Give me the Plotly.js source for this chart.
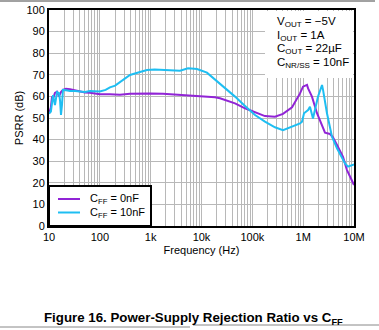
<!DOCTYPE html>
<html>
<head>
<meta charset="utf-8">
<script src="https://cdn.plot.ly/plotly-3.0.1.min.js"></script>
<style>html,body{margin:0;padding:0;background:#fff;}#chart{width:379px;height:330px;}</style>
</head>
<body>
<div id="chart"></div>
<script>
// C_FF = 0nF (purple)
const freq0 = [10, 10.9, 11.5, 12, 13.1, 14.4, 15.7, 16.5, 17.2, 18.8, 21.6, 25.9, 32.5, 40.7, 51, 64, 100, 158, 249, 392, 617, 971, 1750, 2400, 3780, 5940, 9360, 12800, 18400, 23100, 29000, 45600, 71800, 113000, 177000, 279000, 401000, 604000, 867000, 993000, 1120000, 1190000, 1250000, 1490000, 1870000, 2350000, 2690000, 3370000, 3860000, 4630000, 6080000, 7280000, 9140000, 10000000];
const psrr0 = [52, 55, 60, 59, 61.6, 62.2, 60, 61, 62, 63, 63.5, 63.3, 62.8, 62.3, 61.8, 61.7, 61, 61, 60.8, 61.2, 61.4, 61.4, 61.2, 61, 60.8, 60.4, 60.2, 60, 59.6, 59.1, 58.3, 56.8, 54.5, 52.5, 50.9, 50.6, 51.9, 55, 61.4, 64.5, 65.2, 65.3, 63.7, 59.9, 52.2, 46, 43.2, 42.6, 41, 37.5, 32, 25.9, 20.5, 19];
// C_FF = 10nF (cyan)
const freq10 = [10, 10.9, 12, 13.1, 14.4, 15.7, 16.5, 17.2, 18, 18.8, 21.6, 25.9, 32.5, 40.7, 51, 64, 100, 130, 158, 200, 249, 392, 617, 847, 1200, 1750, 2400, 3780, 5430, 8170, 12800, 18400, 23100, 29000, 45600, 71800, 113000, 177000, 279000, 401000, 604000, 867000, 949000, 1040000, 1250000, 1360000, 1560000, 1710000, 1960000, 2350000, 2460000, 2940000, 3690000, 4630000, 5310000, 6660000, 7620000, 9140000, 10000000];
const psrr10 = [52, 53, 60.6, 56, 62, 61.5, 58, 51.4, 56, 63, 62.8, 62.5, 62.5, 62.3, 62, 62.5, 62.3, 63, 64.2, 65, 66.5, 69.9, 71.3, 72.2, 72.4, 72.3, 72, 71.9, 73, 72.7, 71, 67.9, 66, 63.7, 59.9, 55.6, 51.4, 48.3, 45.7, 44.4, 46, 47.5, 48.3, 52.2, 53.7, 55.2, 49.8, 53.7, 59.9, 65.3, 63, 52.2, 41.3, 36, 33.6, 29, 27.5, 28, 28.5];

const seriesNames = ['C<sub>FF</sub> = 0nF', 'C<sub>FF</sub> = 10nF'];
const seriesColors = ['#9124d6', '#1ebef2'];
const decades = [10, 100, 1000, 10000, 100000, 1000000, 10000000];
const decadeLabels = ['10', '100', '1k', '10k', '100k', '1M', '10M'];
const yTicks = [0, 10, 20, 30, 40, 50, 60, 70, 80, 90, 100];
const condLines = ['V<sub>OUT</sub> = \u22125V', 'I<sub>OUT</sub> = 1A', 'C<sub>OUT</sub> = 22\u00b5F', 'C<sub>NR/SS</sub> = 10nF'];
const caption = '<b>Figure 16. Power-Supply Rejection Ratio vs C<sub>FF</sub></b>';

// minor grid positions: 2..9 within each decade
const minorVals = [];
decades.slice(0, -1).forEach(d => { for (let m = 2; m <= 9; m++) minorVals.push(d * m); });

const font = 'Liberation Sans, Arial, sans-serif';
const traces = [
  {x: freq0, y: psrr0, type: 'scatter', mode: 'lines', name: seriesNames[0], line: {color: seriesColors[0], width: 2}},
  {x: freq10, y: psrr10, type: 'scatter', mode: 'lines', name: seriesNames[1], line: {color: seriesColors[1], width: 2}}
];

const px = v => (v - 49) / 305;      // pixel x -> paper
const py = v => (226 - v) / 216;     // pixel y -> paper

const annotations = condLines.map((t, i) => ({
  xref: 'paper', yref: 'paper', x: px(275), y: py(22 + i * 13.5),
  xanchor: 'left', yanchor: 'middle', text: t, showarrow: false,
  font: {family: font, size: 11.5, color: '#000'}
}));
annotations.push({
  xref: 'paper', yref: 'paper', x: px(193), y: py(318),
  xanchor: 'center', yanchor: 'middle', text: caption, showarrow: false,
  font: {family: font, size: 13.3, color: '#000'}
});
// manual legend labels
seriesNames.forEach((n, i) => annotations.push({
  xref: 'paper', yref: 'paper', x: px(88), y: py(199 + i * 13.5),
  xanchor: 'left', yanchor: 'middle', text: n, showarrow: false,
  font: {family: font, size: 11, color: '#000'}
}));

const shapes = [
  {type: 'rect', xref: 'paper', yref: 'paper', x0: px(265), x1: px(353), y0: py(78), y1: py(11),
   fillcolor: '#fff', line: {width: 0}, layer: 'above'},
  {type: 'rect', xref: 'paper', yref: 'paper', x0: 0, x1: px(151), y0: 0, y1: py(186),
   fillcolor: '#fff', line: {color: '#000', width: 2}, layer: 'above'},
  {type: 'line', xref: 'paper', yref: 'paper', x0: -49 / 305, x1: px(375), y0: py(1), y1: py(1),
   line: {color: '#444', width: 1}},
  {type: 'line', xref: 'paper', yref: 'paper', x0: -49 / 305, x1: px(190), y0: py(327), y1: py(327),
   line: {color: '#888', width: 1}},
  {type: 'line', xref: 'paper', yref: 'paper', x0: px(193), x1: px(379), y0: py(325), y1: py(325),
   line: {color: '#888', width: 1}}
];
seriesColors.forEach((c, i) => shapes.push({
  type: 'line', xref: 'paper', yref: 'paper', x0: px(58), x1: px(80), y0: py(199 + i * 13.5), y1: py(199 + i * 13.5),
  line: {color: c, width: 2}, layer: 'above'
}));

const layout = {
  width: 379, height: 330,
  margin: {l: 49, r: 25, t: 10, b: 104},
  paper_bgcolor: '#fff', plot_bgcolor: '#fff',
  font: {family: font, size: 11, color: '#000'},
  showlegend: false,
  xaxis: {
    type: 'log', range: [1, 7], tickmode: 'array', tickvals: decades, ticktext: decadeLabels,
    showgrid: true, gridcolor: '#b8b8b8', gridwidth: 1, zeroline: false,
    minor: {tickmode: 'array', tickvals: minorVals, showgrid: true, gridcolor: '#b8b8b8', gridwidth: 1, ticks: ''},
    showline: true, mirror: true, linecolor: '#000', linewidth: 2, ticks: '',
    tickfont: {family: font, size: 11, color: '#000'},
    title: {text: 'Frequency (Hz)', font: {family: font, size: 11, color: '#000'}, standoff: 4}
  },
  yaxis: {
    range: [0, 100], tickmode: 'array', tickvals: yTicks,
    showgrid: true, gridcolor: '#b8b8b8', gridwidth: 1, zeroline: false,
    showline: true, mirror: true, linecolor: '#000', linewidth: 2, ticks: '',
    tickfont: {family: font, size: 11, color: '#000'},
    title: {text: 'PSRR (dB)', font: {family: font, size: 11, color: '#000'}, standoff: 1}
  },
  shapes: shapes,
  annotations: annotations
};

Plotly.newPlot('chart', traces, layout, {displayModeBar: false, staticPlot: true});
</script>
</body>
</html>
